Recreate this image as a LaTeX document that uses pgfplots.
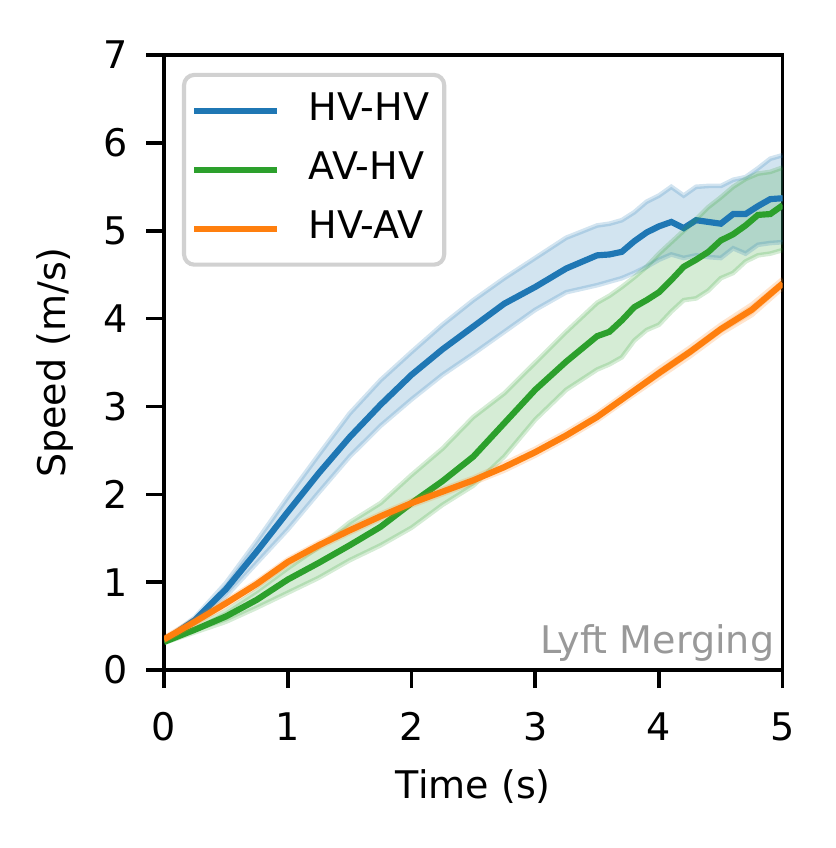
\documentclass[border=0pt]{standalone}
\usepackage{pgfplots}
\pgfplotsset{compat=1.18}
\usepgfplotslibrary{fillbetween}
\usepackage{fontspec}
\setmainfont{DejaVu Sans}
\definecolor{tabblue}{HTML}{1F77B4}
\definecolor{tabgreen}{HTML}{2CA02C}
\definecolor{taborange}{HTML}{FF7F0E}
\definecolor{lblgray}{HTML}{999999}
\newcommand{\sz}{\fontsize{7.4}{9}\selectfont}

\begin{document}
\begin{tikzpicture}
\begin{axis}[
  scale only axis,
  width=120.3pt, height=119.6pt,
  xmin=0, xmax=5, ymin=0, ymax=7,
  xtick={0,1,2,3,4,5}, ytick={0,1,2,3,4,5,6,7},
  tick align=outside, tick pos=left,
  major tick length=3.5pt,
  axis line style={line width=0.7pt},
  every tick/.style={black, line width=0.7pt},
  /pgf/number format/assume math mode=true,
  tick label style={font=\sz},
  xticklabel style={yshift=-1.2pt},
  xlabel={Time (s)}, ylabel={Speed (m/s)},
  every axis x label/.style={at={(axis description cs:0.5,-0.19)}, anchor=center, font=\sz},
  every axis y label/.style={at={(axis description cs:-0.176,0.5)}, rotate=90, anchor=center, font=\sz},
  legend style={at={(axis description cs:0.029,0.971)}, anchor=north west,
    draw=black!18, line width=0.8pt, rounded corners=2pt,
    fill=white, fill opacity=0.8, text opacity=1,
    font=\sz, inner xsep=1.4pt, inner ysep=2pt, row sep=1.6pt,
    nodes={inner sep=1.5pt, text height=5.4pt, text depth=1.5pt}},
  legend cell align=left,
  legend image code/.code={\draw[#1, line width=1.2pt] (0pt,0pt) -- (16pt,0pt); \path[draw=none] (0pt,0pt) -- (20.7pt,0pt);},
]
\coordinate (bl) at (rel axis cs:0,0);
\coordinate (tr) at (rel axis cs:1,1);

% ---------- HV-HV (blue) ----------
\addplot[name path=bhi, draw=tabblue, draw opacity=0.2, line width=0.9pt, forget plot] coordinates {
(0.0,0.34)(0.25,0.60)(0.5,0.99)(0.75,1.47)(1.0,1.97)(1.25,2.45)(1.5,2.92)(1.75,3.30)
(2.0,3.62)(2.25,3.93)(2.5,4.21)(2.75,4.46)(3.0,4.69)(3.25,4.92)(3.5,5.06)(3.6,5.08)
(3.7,5.12)(3.8,5.21)(3.9,5.33)(4.0,5.40)(4.1,5.50)(4.2,5.40)(4.3,5.50)(4.4,5.51)
(4.5,5.51)(4.6,5.58)(4.7,5.61)(4.8,5.71)(4.9,5.82)(5.0,5.86)};
\addplot[name path=blo, draw=tabblue, draw opacity=0.2, line width=0.9pt, forget plot] coordinates {
(0.0,0.32)(0.25,0.54)(0.5,0.84)(0.75,1.22)(1.0,1.60)(1.25,2.02)(1.5,2.43)(1.75,2.78)
(2.0,3.08)(2.25,3.36)(2.5,3.60)(2.75,3.85)(3.0,4.10)(3.25,4.30)(3.5,4.38)(3.6,4.42)
(3.7,4.46)(3.8,4.52)(3.9,4.59)(4.0,4.67)(4.1,4.73)(4.2,4.69)(4.3,4.72)(4.4,4.70)
(4.5,4.69)(4.6,4.80)(4.7,4.74)(4.8,4.84)(4.9,4.86)(5.0,4.87)};
\addplot[fill=tabblue, fill opacity=0.2, draw=none, forget plot] fill between[of=bhi and blo];
\addplot[tabblue, line width=1.2pt] coordinates {
(0.0,0.33)(0.25,0.57)(0.5,0.92)(0.75,1.35)(1.0,1.80)(1.25,2.24)(1.5,2.65)(1.75,3.02)
(2.0,3.36)(2.25,3.65)(2.5,3.91)(2.75,4.17)(3.0,4.36)(3.25,4.57)(3.5,4.72)(3.6,4.73)
(3.7,4.76)(3.8,4.88)(3.9,4.98)(4.0,5.05)(4.1,5.10)(4.2,5.03)(4.3,5.12)(4.4,5.10)
(4.5,5.08)(4.6,5.19)(4.7,5.19)(4.8,5.28)(4.9,5.36)(5.0,5.37)};
\addlegendentry{HV-HV}

% ---------- AV-HV (green) ----------
\addplot[name path=ghi, draw=tabgreen, draw opacity=0.2, line width=0.9pt, forget plot] coordinates {
(0.0,0.33)(0.25,0.49)(0.5,0.67)(0.75,0.90)(1.0,1.16)(1.25,1.40)(1.5,1.68)(1.75,1.90)
(2.0,2.22)(2.25,2.52)(2.5,2.88)(2.75,3.15)(3.0,3.50)(3.25,3.85)(3.5,4.18)(3.6,4.26)
(3.7,4.36)(3.8,4.47)(3.9,4.59)(4.0,4.74)(4.1,4.87)(4.2,5.00)(4.3,5.13)(4.4,5.27)
(4.5,5.38)(4.6,5.50)(4.7,5.59)(4.8,5.65)(4.9,5.67)(5.0,5.72)};
\addplot[name path=glo, draw=tabgreen, draw opacity=0.2, line width=0.9pt, forget plot] coordinates {
(0.0,0.31)(0.25,0.43)(0.5,0.55)(0.75,0.71)(1.0,0.88)(1.25,1.05)(1.5,1.25)(1.75,1.42)
(2.0,1.62)(2.25,1.88)(2.5,2.10)(2.75,2.43)(3.0,2.85)(3.25,3.19)(3.5,3.42)(3.6,3.48)
(3.7,3.56)(3.8,3.75)(3.9,3.87)(4.0,3.93)(4.1,4.08)(4.2,4.21)(4.3,4.23)(4.4,4.32)
(4.5,4.46)(4.6,4.52)(4.7,4.65)(4.8,4.72)(4.9,4.74)(5.0,4.78)};
\addplot[fill=tabgreen, fill opacity=0.2, draw=none, forget plot] fill between[of=ghi and glo];
\addplot[tabgreen, line width=1.2pt] coordinates {
(0.0,0.32)(0.25,0.46)(0.5,0.61)(0.75,0.80)(1.0,1.03)(1.25,1.22)(1.5,1.42)(1.75,1.63)
(2.0,1.90)(2.25,2.15)(2.5,2.43)(2.75,2.81)(3.0,3.19)(3.25,3.51)(3.5,3.80)(3.6,3.85)
(3.7,3.98)(3.8,4.13)(3.9,4.21)(4.0,4.30)(4.1,4.44)(4.2,4.59)(4.3,4.67)(4.4,4.76)
(4.5,4.89)(4.6,4.96)(4.7,5.06)(4.8,5.18)(4.9,5.19)(5.0,5.29)};
\addlegendentry{AV-HV}

% ---------- HV-AV (orange) ----------
\addplot[name path=ohi, draw=taborange, draw opacity=0.2, line width=0.9pt, forget plot] coordinates {
(0.0,0.37)(0.25,0.58)(0.5,0.79)(0.75,1.01)(1.0,1.26)(1.25,1.45)(1.5,1.62)(1.75,1.78)
(2.0,1.93)(2.25,2.06)(2.5,2.19)(2.75,2.35)(3.0,2.52)(3.25,2.71)(3.5,2.92)(3.75,3.17)
(4.0,3.43)(4.25,3.67)(4.5,3.93)(4.75,4.16)(5.0,4.45)};
\addplot[name path=olo, draw=taborange, draw opacity=0.2, line width=0.9pt, forget plot] coordinates {
(0.0,0.33)(0.25,0.52)(0.5,0.73)(0.75,0.95)(1.0,1.20)(1.25,1.39)(1.5,1.56)(1.75,1.72)
(2.0,1.87)(2.25,2.00)(2.5,2.13)(2.75,2.27)(3.0,2.44)(3.25,2.63)(3.5,2.84)(3.75,3.09)
(4.0,3.33)(4.25,3.57)(4.5,3.83)(4.75,4.04)(5.0,4.35)};
\addplot[fill=taborange, fill opacity=0.2, draw=none, forget plot] fill between[of=ohi and olo];
\addplot[taborange, line width=1.2pt] coordinates {
(0.0,0.35)(0.25,0.55)(0.5,0.76)(0.75,0.98)(1.0,1.23)(1.25,1.42)(1.5,1.59)(1.75,1.75)
(2.0,1.90)(2.25,2.03)(2.5,2.16)(2.75,2.31)(3.0,2.48)(3.25,2.67)(3.5,2.88)(3.75,3.13)
(4.0,3.38)(4.25,3.62)(4.5,3.88)(4.75,4.10)(5.0,4.40)};
\addlegendentry{HV-AV}

\node[anchor=base east, text=lblgray, font=\sz, inner sep=0pt] at (rel axis cs:0.988,0.027) {Lyft Merging};
\end{axis}
\pgfresetboundingbox
\path ([shift={(-31.9pt,-34.6pt)}]bl) rectangle ([shift={(10.3pt,10.7pt)}]tr);
\end{tikzpicture}
\end{document}
